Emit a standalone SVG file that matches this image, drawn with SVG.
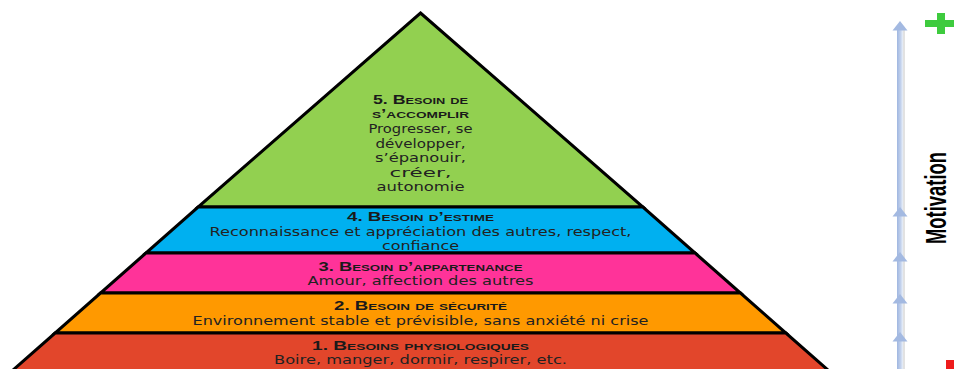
<svg xmlns="http://www.w3.org/2000/svg" width="954" height="369" viewBox="0 0 954 369">
  <defs>
    <linearGradient id="shaft" x1="0" y1="0" x2="1" y2="0">
      <stop offset="0" stop-color="#9fb6e0"/>
      <stop offset="0.6" stop-color="#c2d1ec"/>
      <stop offset="1" stop-color="#eaf0f9"/>
    </linearGradient>
    <polygon id="head" points="0,0 -7.5,9.5 7.5,9.5" fill="#a3b9e1"/>
  </defs>
  <style>
    .band { stroke: #000; stroke-width: 3; stroke-linejoin: miter; }
    .title { font-family: "Liberation Sans", "DejaVu Sans", sans-serif; font-variant: small-caps; font-weight: bold; font-size: 12.5px; fill: #1a1a1a; text-anchor: middle; }
    .body { font-family: "DejaVu Sans", Verdana, sans-serif; font-size: 13px; fill: #222; text-anchor: middle; }
    .mot { font-family: "Liberation Sans", Arial, sans-serif; font-weight: bold; font-size: 29px; fill: #000; text-anchor: middle; }
  </style>
  <rect width="954" height="369" fill="#fff"/>

  <g id="level5">
    <polygon class="band" points="420.5,13 642.9,207 198.1,207" fill="#92d050"/>
    <text class="title" x="420.5" y="104" textLength="95" lengthAdjust="spacingAndGlyphs">5. Besoin de</text>
    <text class="title" x="420.5" y="118" textLength="97" lengthAdjust="spacingAndGlyphs">s’accomplir</text>
    <text class="body" x="420.5" y="133" textLength="104" lengthAdjust="spacingAndGlyphs">Progresser, se</text>
    <text class="body" x="420.5" y="147.5" textLength="90" lengthAdjust="spacingAndGlyphs">développer,</text>
    <text class="body" x="420.5" y="162" textLength="91" lengthAdjust="spacingAndGlyphs">s’épanouir,</text>
    <text class="body" x="420.5" y="176.5" textLength="62" lengthAdjust="spacingAndGlyphs">créer,</text>
    <text class="body" x="420.5" y="191" textLength="88" lengthAdjust="spacingAndGlyphs">autonomie</text>
  </g>

  <g id="level4">
    <polygon class="band" points="198.1,207 642.9,207 695.1,253 145.9,253" fill="#00b0f0"/>
    <text class="title" x="420.5" y="221" textLength="147" lengthAdjust="spacingAndGlyphs">4. Besoin d’estime</text>
    <text class="body" x="420.5" y="236" textLength="422" lengthAdjust="spacingAndGlyphs">Reconnaissance et appréciation des autres, respect,</text>
    <text class="body" x="420.5" y="250" textLength="77" lengthAdjust="spacingAndGlyphs">confiance</text>
  </g>

  <g id="level3">
    <polygon class="band" points="145.9,253 695.1,253 740.5,293 100.5,293" fill="#ff3399"/>
    <text class="title" x="420.5" y="271" textLength="204" lengthAdjust="spacingAndGlyphs">3. Besoin d’appartenance</text>
    <text class="body" x="420.5" y="285" textLength="226" lengthAdjust="spacingAndGlyphs">Amour, affection des autres</text>
  </g>

  <g id="level2">
    <polygon class="band" points="100.5,293 740.5,293 785.9,333 55.1,333" fill="#ff9900"/>
    <text class="title" x="420.5" y="310" textLength="173" lengthAdjust="spacingAndGlyphs">2. Besoin de sécurité</text>
    <text class="body" x="420.5" y="325" textLength="456" lengthAdjust="spacingAndGlyphs">Environnement stable et prévisible, sans anxiété ni crise</text>
  </g>

  <g id="level1">
    <polygon class="band" points="55.1,333 785.9,333 830.2,372 10.8,372" fill="#e2462b"/>
    <text class="title" x="420.5" y="350" textLength="217" lengthAdjust="spacingAndGlyphs">1. Besoins physiologiques</text>
    <text class="body" x="420.5" y="364" textLength="293" lengthAdjust="spacingAndGlyphs">Boire, manger, dormir, respirer, etc.</text>
  </g>

  <g id="connectors">
    <rect x="897" y="28" width="6" height="345" fill="url(#shaft)"/>
    <rect x="903" y="28" width="2" height="345" fill="#e2e2e2"/>
    <use href="#head" x="900" y="21"/>
    <use href="#head" x="900" y="207"/>
    <use href="#head" x="900" y="252"/>
    <use href="#head" x="900" y="294"/>
    <use href="#head" x="900" y="332"/>
  </g>

  <g id="axis-labels">
    <rect x="925" y="20" width="29" height="7" fill="#3ecb3e"/>
    <rect x="937" y="13" width="8" height="21" fill="#3ecb3e"/>
    <text class="mot" transform="translate(946,198) rotate(-90)" textLength="92" lengthAdjust="spacingAndGlyphs">Motivation</text>
    <rect x="946" y="360" width="8" height="9" fill="#ee1c1c"/>
  </g>
</svg>
